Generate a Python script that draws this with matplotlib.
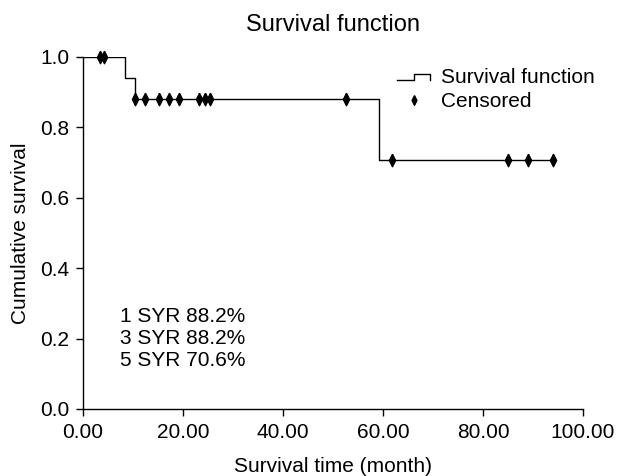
import matplotlib.pyplot as plt
from matplotlib.lines import Line2D
from matplotlib.legend_handler import HandlerBase

plt.rcParams['font.family'] = ['Liberation Sans', 'DejaVu Sans']

# Kaplan-Meier step values
step_times = [0.0, 8.3, 10.3, 59.1, 94.0]
step_surv = [1.0, 0.941, 0.882, 0.706, 0.706]

# Censored observations
cens_times = [3.3, 4.2, 10.3, 12.3, 15.1, 17.1, 19.1, 23.2, 24.3, 25.4,
              52.5, 61.7, 84.9, 89.0, 94.0]
cens_surv = [1.0, 1.0, 0.882, 0.882, 0.882, 0.882, 0.882, 0.882, 0.882, 0.882,
             0.882, 0.706, 0.706, 0.706, 0.706]

summary_lines = ["1 SYR 88.2%", "3 SYR 88.2%", "5 SYR 70.6%"]
x_ticks = [0, 20, 40, 60, 80, 100]
y_ticks = [0.0, 0.2, 0.4, 0.6, 0.8, 1.0]

# tall thin diamond like the SPSS censor mark
diamond = [(0, 1), (0.5, 0), (0, -1), (-0.5, 0), (0, 1)]


class StepHandler(HandlerBase):
    # small step icon for the survival function legend entry
    def create_artists(self, legend, orig_handle, xdescent, ydescent,
                       width, height, fontsize, trans):
        x0 = -xdescent
        y0 = -ydescent
        xs = [x0, x0 + width * 0.5, x0 + width * 0.5, x0 + width, x0 + width]
        ys = [y0 + height * 0.2, y0 + height * 0.2, y0 + height * 0.65,
              y0 + height * 0.65, y0 + height * 0.25]
        line = Line2D(xs, ys, color='black', lw=1.0, transform=trans)
        return [line]


fig = plt.figure(figsize=(6.17, 4.76), dpi=100)
ax = fig.add_axes([83 / 617, 1 - 409 / 476, 500 / 617, 352 / 476])

ax.step(step_times, step_surv, where='post', color='black', lw=1.0)
ax.plot(cens_times, cens_surv, linestyle='none', marker=diamond, color='black',
        markersize=9, clip_on=False)

ax.set_xlim(0, 100)
ax.set_ylim(0, 1)
ax.set_xticks(x_ticks)
ax.set_xticklabels([f"{t:.2f}" for t in x_ticks])
ax.set_yticks(y_ticks)
ax.set_yticklabels([f"{t:.1f}" for t in y_ticks])
ax.tick_params(direction='out', length=5, width=1, labelsize=15, colors='black')
ax.tick_params(axis='x', pad=5)
ax.tick_params(axis='y', pad=5)
for side in ['top', 'right']:
    ax.spines[side].set_visible(False)
for side in ['left', 'bottom']:
    ax.spines[side].set_linewidth(1.0)

ax.set_title("Survival function", fontsize=17, pad=19)
ax.set_xlabel("Survival time (month)", fontsize=15, labelpad=11)
ax.set_ylabel("Cumulative survival", fontsize=15, labelpad=7)

for i, s in enumerate(summary_lines):
    ax.text(7.3, 0.264 - i * 0.0625, s, fontsize=15, va='center', ha='left')

step_handle = Line2D([], [], color='black')
cens_handle = Line2D([], [], linestyle='none', marker=diamond, color='black',
                     markersize=7)
ax.legend([step_handle, cens_handle], ["Survival function", "Censored"],
          handler_map={step_handle: StepHandler()},
          loc='upper left', bbox_to_anchor=(0.628, 0.968), frameon=False,
          fontsize=15, handlelength=1.6, handletextpad=0.5,
          labelspacing=0.25, borderaxespad=0, borderpad=0)

fig.savefig("out.png", dpi=100)
